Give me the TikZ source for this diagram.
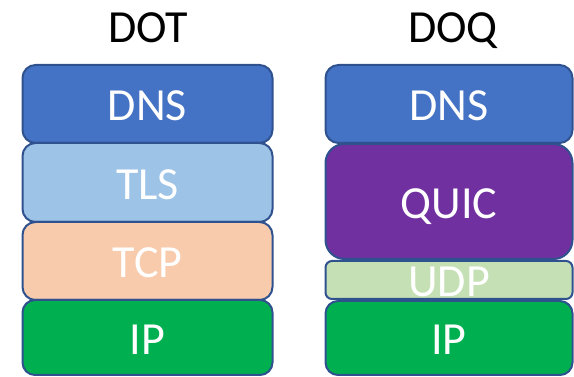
\documentclass[tikz,border=0pt]{standalone}
\usepackage{fontspec}
\setmainfont{Carlito}
\definecolor{dnsblue}{HTML}{4472C4}
\definecolor{tlsblue}{HTML}{9DC3E6}
\definecolor{tcppeach}{HTML}{F8CBAD}
\definecolor{ipgreen}{HTML}{00B050}
\definecolor{quicpurple}{HTML}{7030A0}
\definecolor{udpgreen}{HTML}{C5E0B4}
\definecolor{edgeblue}{HTML}{2F528F}
\tikzset{
  layer/.style={draw=edgeblue, line width=2pt, rectangle, inner sep=0pt,
    text=white, font=\fontsize{46}{46}\selectfont,
    text height=34pt, text depth=0pt},
  title/.style={font=\fontsize{46}{46}\selectfont, text=black, inner sep=0pt, anchor=base}
}
\begin{document}
\begin{tikzpicture}[x=1pt,y=-1pt]
\useasboundingbox (0,0) rectangle (574,377);
% left stack (DOT)
\node[title] (dot) at (148,43) {DOT};
\node[layer, fill=dnsblue, rounded corners=13pt, minimum width=250pt, minimum height=78pt] (ldns) at (147.5,104) {DNS};
\node[layer, fill=tlsblue, rounded corners=13pt, minimum width=250pt, minimum height=79pt] (ltls) at (147.5,182.5) {TLS};
\node[layer, fill=tcppeach, rounded corners=13pt, minimum width=250pt, minimum height=78pt] (ltcp) at (147.5,261) {TCP};
\node[layer, fill=ipgreen, rounded corners=12.5pt, minimum width=250pt, minimum height=75pt] (lip) at (147.5,337.5) {IP};
% right stack (DOQ)
\node[title] (doq) at (453,43) {DOQ};
\node[layer, fill=dnsblue, rounded corners=13pt, minimum width=247pt, minimum height=78pt] (rdns) at (449,104) {DNS};
\node[layer, fill=quicpurple, rounded corners=19pt, minimum width=247pt, minimum height=115pt] (rquic) at (449,201.5) {QUIC};
\node[layer, fill=udpgreen, rounded corners=6.5pt, minimum width=247pt, minimum height=38pt] (rudp) at (449,280) {UDP};
\node[layer, fill=ipgreen, rounded corners=12.5pt, minimum width=247pt, minimum height=74pt] (rip) at (449,338) {IP};
\end{tikzpicture}
\end{document}
